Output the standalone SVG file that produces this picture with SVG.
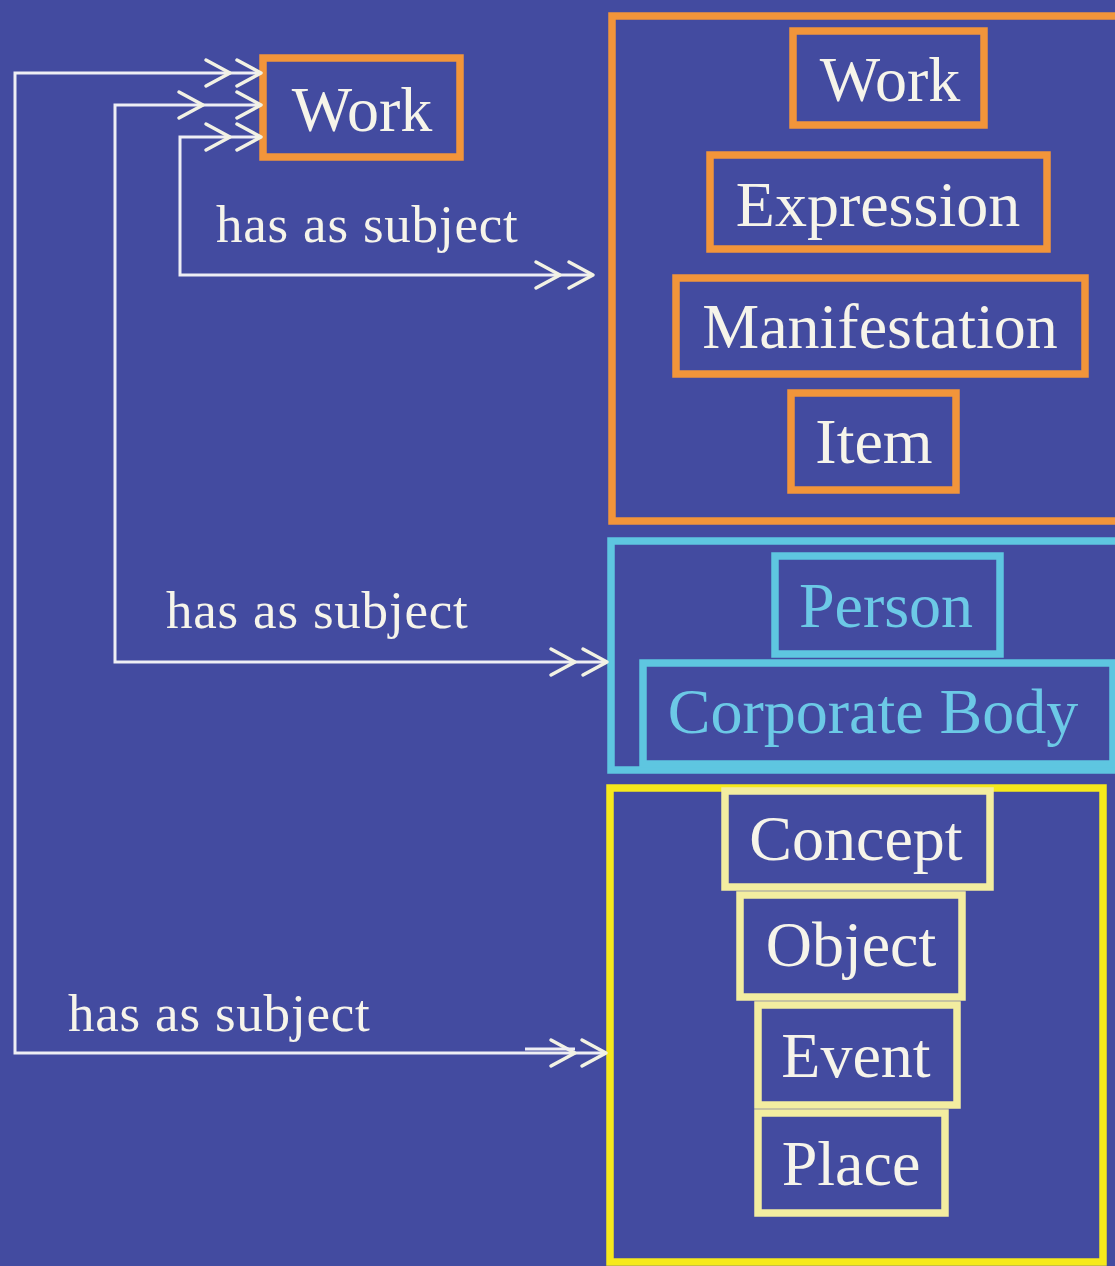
<svg xmlns="http://www.w3.org/2000/svg" xmlns:xlink="http://www.w3.org/1999/xlink" width="1115" height="1266" viewBox="0 0 1115 1266">
<style>
.bg{fill:#434ba0}
.box{fill:none;stroke-width:7.5}
.or{stroke:#f2953a}
.cy{stroke:#5ec6e0}
.ye{stroke:#f6e91c}
.py{stroke:#f3eda0}
.t{font-family:"Liberation Serif","Times New Roman",serif;font-size:64px;fill:#f6f4ea;text-anchor:middle}
.tc{fill:#6cc9e6}
.lab{font-family:"Liberation Serif","Times New Roman",serif;font-size:53px;fill:#f6f4ea;letter-spacing:0.8px}
.ln{fill:none;stroke:#eeeef4;stroke-width:3}
.ch{fill:none;stroke:#f2f2e4;stroke-width:3.5;stroke-linecap:round;stroke-linejoin:round}
</style>
<defs>
<path id="chev" class="ch" d="M-24,-13 L0,0 L-24,13"/>
</defs>
<rect class="bg" x="0" y="0" width="1115" height="1266"/>

<g id="group-fbr">
<rect class="box or" x="612" y="16" width="520" height="505"/>
</g>
<g id="group-agents">
<rect class="box cy" x="611" y="541" width="520" height="229"/>
</g>
<g id="group-subjects">
<rect class="box ye" x="610" y="788" width="493" height="474"/>
</g>

<g id="node-work-left">
<rect class="box or" x="263" y="58" width="197" height="99"/>
<text class="t" x="362" y="131">Work</text>
</g>
<g id="node-work">
<rect class="box or" x="793" y="31" width="191" height="94"/>
<text class="t" x="890" y="101">Work</text>
</g>
<g id="node-expression">
<rect class="box or" x="710" y="155" width="337" height="94"/>
<text class="t" x="878" y="226">Expression</text>
</g>
<g id="node-manifestation">
<rect class="box or" x="676" y="278" width="409" height="96"/>
<text class="t" x="880" y="348">Manifestation</text>
</g>
<g id="node-item">
<rect class="box or" x="791" y="393" width="165" height="97"/>
<text class="t" x="874" y="463">Item</text>
</g>
<g id="node-person">
<rect class="box cy" x="775" y="556" width="225" height="98"/>
<text class="t tc" x="886" y="627">Person</text>
</g>
<g id="node-corporate-body">
<rect class="box cy" x="643" y="663" width="470" height="101"/>
<text class="t tc" x="873" y="733">Corporate Body</text>
</g>
<g id="node-concept">
<rect class="box py" x="725" y="791" width="265" height="96"/>
<text class="t" x="856" y="860">Concept</text>
</g>
<g id="node-object">
<rect class="box py" x="740" y="895" width="222" height="102"/>
<text class="t" x="851" y="966">Object</text>
</g>
<g id="node-event">
<rect class="box py" x="758" y="1005" width="199" height="100"/>
<text class="t" x="856" y="1077">Event</text>
</g>
<g id="node-place">
<rect class="box py" x="758" y="1113" width="187" height="100"/>
<text class="t" x="851" y="1185">Place</text>
</g>

<g id="connectors">
<polyline class="ln" points="605,1053 15,1053 15,73 260,73"/>
<use xlink:href="#chev" x="230" y="73"/>
<use xlink:href="#chev" x="261" y="73"/>
<use xlink:href="#chev" x="575" y="1053"/>
<use xlink:href="#chev" x="606" y="1053"/>
<line class="ln" x1="525" y1="1049" x2="575" y2="1049" stroke-width="2"/>
<text class="lab" x="68" y="1031">has as subject</text>

<polyline class="ln" points="607,662 115,662 115,105 260,105"/>
<use xlink:href="#chev" x="203" y="105"/>
<use xlink:href="#chev" x="261" y="105"/>
<use xlink:href="#chev" x="575" y="662"/>
<use xlink:href="#chev" x="607" y="662"/>
<text class="lab" x="166" y="628">has as subject</text>

<polyline class="ln" points="592,275 180,275 180,137 260,137"/>
<use xlink:href="#chev" x="230" y="137"/>
<use xlink:href="#chev" x="261" y="137"/>
<use xlink:href="#chev" x="560" y="275"/>
<use xlink:href="#chev" x="593" y="275"/>
<text class="lab" x="216" y="242">has as subject</text>
</g>
</svg>
